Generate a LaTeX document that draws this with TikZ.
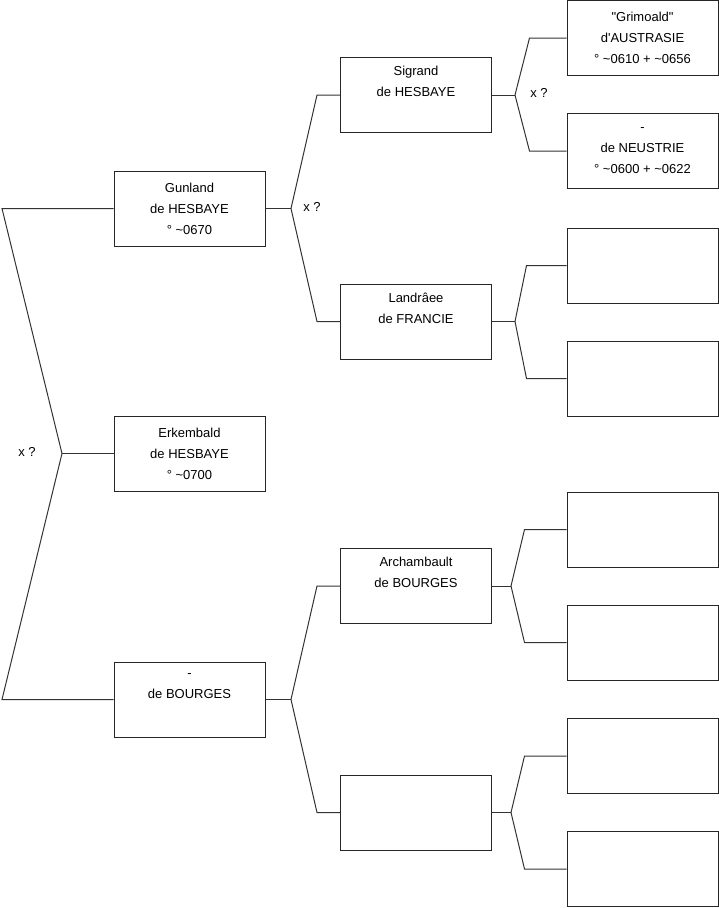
\documentclass[tikz,border=0pt]{standalone}
\usepackage{fontspec}
\setmainfont{Liberation Sans}
\usetikzlibrary{calc}

\tikzset{
  person/.style={draw=black!85, line width=1pt, fill=white, minimum width=151pt,
    minimum height=75pt, inner sep=0pt, align=center,
    font=\fontsize{13}{21}\selectfont},
  link/.style={draw=black!80, line width=1pt},
  union/.style={font=\fontsize{13}{21}\selectfont}
}

\begin{document}
\begin{tikzpicture}[x=1pt, y=-1pt]
        \useasboundingbox [fill=white] (0,0) rectangle (719,908);

        % first generation
        \node [person] (gunland) at (189.5,208.5) {Gunland\\de HESBAYE\\° \textasciitilde0670};
        \node [person] (erkembald) at (189.5,453.5) {Erkembald\\de HESBAYE\\° \textasciitilde0700};
        \node [person] (bourges) at (189.5,699.5) {-\\de BOURGES\\\strut};

        % second generation
        \node [person] (sigrand) at (416,95) {Sigrand\\de HESBAYE\\\strut};
        \node [person] (landraee) at (416,321.5) {Landrâee\\de FRANCIE\\\strut};
        \node [person] (archambault) at (416,586) {Archambault\\de BOURGES\\\strut};
        \node [person] (inconnu) at (416,812.5) {};

        % third generation
        \node [person] (grimoald) at (642.5,38) {\textquotedbl Grimoald\textquotedbl\\d\textquotesingle AUSTRASIE\\° \textasciitilde0610 + \textasciitilde0656};
        \node [person] (neustrie) at (642.5,151) {-\\de NEUSTRIE\\° \textasciitilde0600 + \textasciitilde0622};
        \node [person] (p5) at (642.5,265.5) {};
        \node [person] (p6) at (642.5,378.5) {};
        \node [person] (p7) at (642.5,529.5) {};
        \node [person] (p8) at (642.5,642.5) {};
        \node [person] (p9) at (642.5,756) {};
        \node [person] (p10) at (642.5,869) {};

        % unions
        \node [union] (u0) at (27,452) {x ?};
        \node [union] (u1) at (312,207) {x ?};
        \node [union] (u2) at (539,93) {x ?};

        % junction points
        \coordinate (j0) at (62,453.5);
        \coordinate (j1) at (291,208.5);
        \coordinate (j2) at (291,699.5);
        \coordinate (j3) at (515,95);
        \coordinate (j4) at (515,321.5);
        \coordinate (j5) at (511,586);
        \coordinate (j6) at (511,812.5);

        % connectors
        \draw [link] (erkembald.west) -- (j0);
        \draw [link] (j0) -- (2,208.5) -- (gunland.west);
        \draw [link] (j0) -- (2,699.5) -- (bourges.west);

        \draw [link] (gunland.east) -- (j1);
        \draw [link] (j1) -- ($(sigrand.west)+(-23,0)$) -- (sigrand.west);
        \draw [link] (j1) -- ($(landraee.west)+(-23,0)$) -- (landraee.west);
        \draw [link] (bourges.east) -- (j2);
        \draw [link] (j2) -- ($(archambault.west)+(-23,0)$) -- (archambault.west);
        \draw [link] (j2) -- ($(inconnu.west)+(-23,0)$) -- (inconnu.west);

        \draw [link] (sigrand.east) -- (j3);
        \draw [link] (j3) -- ($(grimoald.west)+(-37,0)$) -- (grimoald.west);
        \draw [link] (j3) -- ($(neustrie.west)+(-37,0)$) -- (neustrie.west);
        \draw [link] (landraee.east) -- (j4);
        \draw [link] (j4) -- ($(p5.west)+(-40,0)$) -- (p5.west);
        \draw [link] (j4) -- ($(p6.west)+(-40,0)$) -- (p6.west);
        \draw [link] (archambault.east) -- (j5);
        \draw [link] (j5) -- ($(p7.west)+(-42,0)$) -- (p7.west);
        \draw [link] (j5) -- ($(p8.west)+(-42,0)$) -- (p8.west);
        \draw [link] (inconnu.east) -- (j6);
        \draw [link] (j6) -- ($(p9.west)+(-42,0)$) -- (p9.west);
        \draw [link] (j6) -- ($(p10.west)+(-42,0)$) -- (p10.west);
    \end{tikzpicture}
\end{document}
